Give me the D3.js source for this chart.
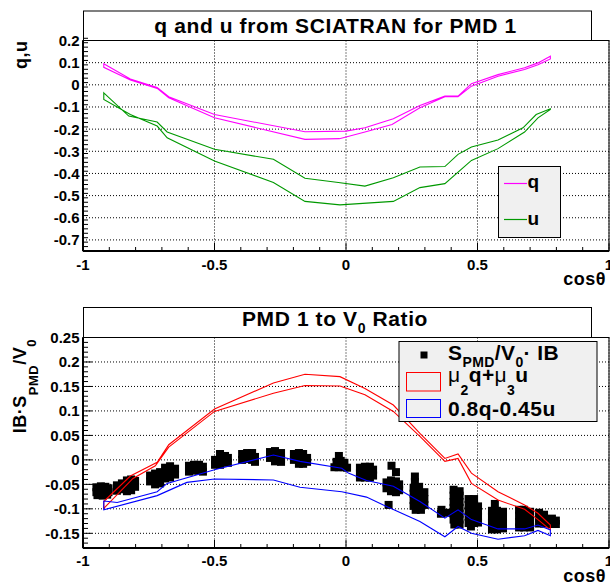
<!DOCTYPE html>
<html><head><meta charset="utf-8">
<script src="https://cdn.jsdelivr.net/npm/d3@7"></script>
<style>
html,body{margin:0;padding:0;background:#fff;}
svg{display:block;}
text{font-family:"Liberation Sans",Arial,Helvetica,sans-serif;font-weight:bold;fill:#000;}
</style></head><body>
<svg id="c" width="610" height="584"></svg>
<script>
// ---------------- DATA ----------------
// top panel: q (two passes, drawn as a closed loop)
const qCosA = [-0.921,-0.82,-0.718,-0.674,-0.5,-0.156,0.0,0.072,0.18,0.281,0.376,0.426,0.477,0.578,0.679,0.73,0.777];
const qValA = [0.095,0.026,-0.012,-0.054,-0.134,-0.212,-0.209,-0.194,-0.153,-0.093,-0.051,-0.051,0.005,0.046,0.077,0.099,0.129];
const qCosB = [-0.921,-0.82,-0.718,-0.674,-0.5,-0.156,-0.025,0.072,0.175,0.281,0.376,0.426,0.477,0.578,0.679,0.73,0.777];
const qValB = [0.079,0.022,-0.016,-0.058,-0.149,-0.246,-0.243,-0.213,-0.179,-0.104,-0.054,-0.054,-0.006,0.039,0.069,0.091,0.117];
// top panel: u
const uCosA = [-0.921,-0.826,-0.718,-0.68,-0.5,-0.276,-0.156,-0.029,0.072,0.18,0.281,0.376,0.426,0.477,0.578,0.673,0.723,0.777];
const uValA = [-0.036,-0.141,-0.168,-0.213,-0.291,-0.336,-0.422,-0.441,-0.457,-0.419,-0.371,-0.369,-0.314,-0.281,-0.249,-0.194,-0.134,-0.108];
const uCosB = [-0.921,-0.82,-0.718,-0.68,-0.5,-0.276,-0.156,-0.023,0.18,0.281,0.376,0.477,0.578,0.679,0.73,0.777];
const uValB = [-0.066,-0.134,-0.186,-0.239,-0.344,-0.441,-0.526,-0.542,-0.526,-0.464,-0.446,-0.341,-0.288,-0.213,-0.149,-0.111];
// bottom panel: mu2 q + mu3 u (red)
const rCosA = [-0.921,-0.82,-0.718,-0.674,-0.5,-0.276,-0.156,-0.023,0.072,0.18,0.281,0.376,0.426,0.477,0.578,0.679,0.73,0.777];
const rValA = [-0.085,-0.033,-0.005,0.031,0.104,0.157,0.175,0.170,0.146,0.112,0.054,0.003,0.012,-0.027,-0.065,-0.092,-0.109,-0.133];
const rCosB = [-0.921,-0.81,-0.725,-0.674,-0.5,-0.276,-0.156,-0.023,0.072,0.18,0.281,0.376,0.426,0.477,0.578,0.679,0.73,0.777];
const rValB = [-0.099,-0.038,-0.012,0.026,0.099,0.136,0.152,0.151,0.133,0.099,0.048,-0.003,0.003,-0.048,-0.082,-0.101,-0.122,-0.143];
// bottom panel: 0.8q - 0.45u (blue)
const bCosA = [-0.921,-0.87,-0.718,-0.68,-0.5,-0.276,-0.175,-0.016,0.009,0.078,0.18,0.281,0.376,0.426,0.477,0.578,0.679,0.73,0.777];
const bValA = [-0.084,-0.087,-0.065,-0.048,-0.020,0.010,-0.003,-0.017,-0.027,-0.042,-0.054,-0.085,-0.119,-0.102,-0.122,-0.141,-0.141,-0.133,-0.143];
const bCosB = [-0.921,-0.718,-0.605,-0.5,-0.276,-0.175,-0.016,0.078,0.154,0.281,0.376,0.426,0.477,0.578,0.679,0.73,0.777];
const bValB = [-0.102,-0.073,-0.046,-0.039,-0.041,-0.056,-0.065,-0.076,-0.095,-0.126,-0.157,-0.136,-0.150,-0.162,-0.155,-0.144,-0.155];
// bottom panel: measured S_PMD/V0 * IB (cos, ratio)
const measured = [
 [-0.949,-0.056],[-0.932,-0.054],[-0.915,-0.055],[-0.903,-0.058],[-0.949,-0.066],[-0.932,-0.066],[-0.915,-0.066],[-0.903,-0.066],[-0.945,-0.072],[-0.925,-0.073],[-0.908,-0.071],
 [-0.871,-0.052],[-0.871,-0.063],[-0.852,-0.048],[-0.852,-0.06],[-0.833,-0.042],[-0.833,-0.055],[-0.833,-0.064],[-0.817,-0.04],[-0.817,-0.052],[-0.817,-0.062],[-0.802,-0.043],[-0.802,-0.055],
 [-0.745,-0.032],[-0.745,-0.044],[-0.726,-0.028],[-0.726,-0.04],[-0.726,-0.05],[-0.707,-0.025],[-0.707,-0.038],[-0.707,-0.048],[-0.688,-0.016],[-0.688,-0.028],[-0.688,-0.038],[-0.669,-0.013],[-0.669,-0.026],[-0.669,-0.036],[-0.65,-0.018],[-0.65,-0.03],
 [-0.597,-0.012],[-0.597,-0.024],[-0.578,-0.01],[-0.578,-0.022],[-0.559,-0.01],[-0.559,-0.022],[-0.544,-0.014],[-0.544,-0.024],
 [-0.498,0.0],[-0.498,-0.01],[-0.479,0.012],[-0.479,0.0],[-0.479,-0.01],[-0.46,0.008],[-0.46,-0.004],[-0.449,0.004],[-0.449,-0.006],
 [-0.395,0.012],[-0.395,0.0],[-0.376,0.014],[-0.376,0.002],[-0.357,0.014],[-0.357,0.0],[-0.346,0.006],[-0.346,-0.004],
 [-0.289,0.016],[-0.289,0.004],[-0.27,0.018],[-0.27,0.006],[-0.27,-0.003],[-0.247,0.014],[-0.247,0.002],[-0.247,-0.004],
 [-0.198,0.012],[-0.198,0.0],[-0.179,0.014],[-0.179,0.002],[-0.179,-0.008],[-0.163,0.012],[-0.163,0.0],[-0.163,-0.008],[-0.148,0.004],[-0.148,-0.004],
 [-0.027,0.008],[-0.036,-0.004],[-0.02,-0.002],[-0.006,-0.006],[-0.044,-0.015],[-0.028,-0.015],[-0.01,-0.015],[0.004,-0.016],
 [0.053,-0.016],[0.053,-0.028],[0.053,-0.036],[0.072,-0.014],[0.072,-0.026],[0.072,-0.036],[0.091,-0.014],[0.091,-0.026],[0.091,-0.036],[0.103,-0.02],[0.103,-0.032],
 [0.173,-0.012],[0.19,-0.025],
 [0.154,-0.046],[0.154,-0.058],[0.171,-0.042],[0.171,-0.054],[0.171,-0.064],[0.19,-0.044],[0.19,-0.056],[0.19,-0.066],[0.202,-0.05],[0.202,-0.062],
 [0.162,-0.092],
 [0.262,-0.034],[0.262,-0.045],[0.257,-0.057],[0.278,-0.055],[0.257,-0.069],[0.278,-0.069],[0.298,-0.066],[0.257,-0.082],[0.278,-0.082],[0.298,-0.08],[0.257,-0.094],[0.278,-0.094],[0.298,-0.092],[0.265,-0.102],[0.285,-0.102],
 [0.363,-0.102],[0.382,-0.108],[0.361,-0.11],
 [0.409,-0.061],[0.432,-0.064],[0.409,-0.073],[0.432,-0.073],[0.409,-0.086],[0.432,-0.086],[0.409,-0.098],[0.432,-0.098],[0.409,-0.11],[0.432,-0.11],[0.409,-0.122],[0.432,-0.122],[0.412,-0.132],[0.432,-0.132],
 [0.466,-0.08],[0.487,-0.08],[0.466,-0.092],[0.487,-0.092],[0.502,-0.095],[0.466,-0.104],[0.487,-0.104],[0.502,-0.104],[0.466,-0.116],[0.487,-0.116],[0.502,-0.116],[0.466,-0.129],[0.487,-0.129],[0.502,-0.128],[0.475,-0.136],
 [0.566,-0.090],[0.555,-0.104],[0.574,-0.104],[0.597,-0.106],[0.555,-0.116],[0.574,-0.116],[0.597,-0.116],[0.555,-0.129],[0.574,-0.129],[0.597,-0.129],[0.555,-0.142],[0.574,-0.142],[0.597,-0.14],
 [0.658,-0.102],[0.677,-0.102],[0.7,-0.106],[0.658,-0.114],[0.677,-0.114],[0.7,-0.114],[0.658,-0.127],[0.677,-0.127],[0.7,-0.127],[0.658,-0.138],[0.677,-0.138],[0.7,-0.138],
 [0.734,-0.108],[0.753,-0.112],[0.734,-0.12],[0.753,-0.12],[0.734,-0.13],[0.753,-0.13],[0.783,-0.12],[0.798,-0.124],[0.783,-0.131],[0.798,-0.131]
];
// axes ticks / labels
const xTicks = [-1,-0.5,0,0.5,1];
const xTickLabels = ["-1","-0.5","0","0.5","1"];
const topYTicks = [0.2,0.1,0,-0.1,-0.2,-0.3,-0.4,-0.5,-0.6,-0.7];
const topYLabels = ["0.2","0.1","0","-0.1","-0.2","-0.3","-0.4","-0.5","-0.6","-0.7"];
const botYTicks = [0.25,0.2,0.15,0.1,0.05,0,-0.05,-0.1,-0.15];
const botYLabels = ["0.25","0.2","0.15","0.1","0.05","0","-0.05","-0.1","-0.15"];

// ---------------- DRAW ----------------
const svg = d3.select("#c");
const x = d3.scaleLinear().domain([-1,1]).range([83,609]);
const yTop = d3.scaleLinear().domain([-0.75,0.2]).range([251,40.5]);
const yBot = d3.scaleLinear().domain([-0.18,0.25]).range([548,337.5]);
const zip = (a,b)=>a.map((v,i)=>[v,b[i]]);

function panel(y, yTicks, yLabels, minorStep, xLabelY){
  const g = svg.append("g");
  const [y0,y1] = y.range(); // bottom, top
  const xl = x.range()[0], xr = x.range()[1];
  xTicks.forEach(t=>{
    g.append("line").attr("x1",x(t)).attr("x2",x(t)).attr("y1",y1).attr("y2",y0)
     .attr("stroke","#000").attr("stroke-width",1).attr("stroke-dasharray","1,2");
  });
  yTicks.forEach(t=>{
    g.append("line").attr("x1",xl).attr("x2",xr).attr("y1",y(t)).attr("y2",y(t))
     .attr("stroke","#000").attr("stroke-width",1).attr("stroke-dasharray","1,2");
  });
  g.append("rect").attr("x",xl).attr("y",y1).attr("width",xr-xl).attr("height",y0-y1)
   .attr("fill","none").attr("stroke","#000").attr("stroke-width",1);
  for(let i=0;i<=20;i++){
    const v = -1 + i*0.1;
    const major = (i%5===0);
    g.append("line").attr("x1",x(v)).attr("x2",x(v)).attr("y1",y0).attr("y2",y0-(major?8:4))
     .attr("stroke","#000").attr("stroke-width",1);
  }
  const yd = y.domain();
  const n = Math.round((yd[1]-yd[0])/minorStep);
  const majStep = minorStep*5;
  for(let i=0;i<=n;i++){
    const v = yd[0] + i*minorStep;
    const r = v/majStep;
    const major = Math.abs(r-Math.round(r))<1e-6;
    g.append("line").attr("x1",xl).attr("x2",xl+(major?9:5)).attr("y1",y(v)).attr("y2",y(v))
     .attr("stroke","#000").attr("stroke-width",1);
  }
  g.append("line").attr("x1",xl).attr("x2",xr).attr("y1",y0).attr("y2",y0).attr("stroke","#000").attr("stroke-width",2);
  g.append("line").attr("x1",xl).attr("x2",xl).attr("y1",y1).attr("y2",y0).attr("stroke","#000").attr("stroke-width",2);
  yTicks.forEach((t,i)=>{
    g.append("text").attr("x",79.5).attr("y",y(t)+5.4).attr("text-anchor","end")
     .style("font-size","15px").text(yLabels[i]);
  });
  xTicks.forEach((t,i)=>{
    g.append("text").attr("x",x(t)).attr("y",xLabelY).attr("text-anchor","middle")
     .style("font-size","15px").text(xTickLabels[i]);
  });
  return g;
}

function loop(g, y, cA, vA, cB, vB, color){
  const pts = zip(cA,vA).concat(zip(cB,vB).reverse());
  const line = d3.line().x(d=>x(d[0])).y(d=>y(d[1]));
  g.append("path").attr("d", line(pts)+"Z").attr("fill","none").attr("stroke",color).attr("stroke-width",1.1);
}

// ---------- TOP PANEL ----------
svg.append("rect").attr("x",83.5).attr("y",11).attr("width",508).attr("height",29.5)
  .attr("fill","#fff").attr("stroke","#000").attr("stroke-width",1);
svg.append("text").attr("x",335.5).attr("y",33).attr("text-anchor","middle")
  .style("font-size","21px").style("letter-spacing","0.6px").text("q and u from SCIATRAN for PMD 1");
const gT = panel(yTop, topYTicks, topYLabels, 0.02, 270);
loop(gT, yTop, qCosA, qValA, qCosB, qValB, "#ff00ff");
loop(gT, yTop, uCosA, uValA, uCosB, uValB, "#009900");
svg.append("text").attr("transform","translate(27,40.5) rotate(-90)").attr("text-anchor","end")
  .style("font-size","18px").style("letter-spacing","0.5px").text("q,u");
svg.append("text").attr("x",606).attr("y",285).attr("text-anchor","end")
  .style("font-size","18px").style("letter-spacing","0.5px").text("cosθ");
svg.append("rect").attr("x",498.5).attr("y",166.5).attr("width",62).attr("height",71)
  .attr("fill","#f0f0f0").attr("stroke","#000").attr("stroke-width",1);
svg.append("line").attr("x1",504).attr("x2",527).attr("y1",183.5).attr("y2",183.5).attr("stroke","#ff00ff").attr("stroke-width",1.2);
svg.append("line").attr("x1",504).attr("x2",527).attr("y1",219.5).attr("y2",219.5).attr("stroke","#009900").attr("stroke-width",1.2);
svg.append("text").attr("x",527.5).attr("y",188).style("font-size","19px").text("q");
svg.append("text").attr("x",527.5).attr("y",225).style("font-size","19px").text("u");

// ---------- BOTTOM PANEL ----------
svg.append("rect").attr("x",83.5).attr("y",307.5).attr("width",508).attr("height",30)
  .attr("fill","#fff").attr("stroke","#000").attr("stroke-width",1);
const t2 = svg.append("text").attr("x",335).attr("y",326).attr("text-anchor","middle")
  .style("font-size","21px").style("letter-spacing","0.6px");
t2.append("tspan").text("PMD 1 to V");
t2.append("tspan").attr("dy",7).style("font-size","14px").text("0");
t2.append("tspan").attr("dy",-7).text(" Ratio");
const gB = panel(yBot, botYTicks, botYLabels, 0.01, 565.5);
gB.append("g").selectAll("rect").data(measured).join("rect")
  .attr("x",d=>x(d[0])-4).attr("y",d=>yBot(d[1])-4).attr("width",8).attr("height",8).attr("fill","#000");
loop(gB, yBot, rCosA, rValA, rCosB, rValB, "#ff0000");
loop(gB, yBot, bCosA, bValA, bCosB, bValB, "#0000ff");
const yt = svg.append("text").attr("transform","translate(26,339) rotate(-90)").attr("text-anchor","end")
  .style("font-size","18px").style("letter-spacing","0.5px");
yt.append("tspan").text("IB·S");
yt.append("tspan").attr("dy",12).style("font-size","13px").text("PMD");
yt.append("tspan").attr("dy",-12).text("/V");
yt.append("tspan").attr("dy",10).style("font-size","13px").text("0");
svg.append("text").attr("x",606).attr("y",582).attr("text-anchor","end")
  .style("font-size","18px").style("letter-spacing","0.5px").text("cosθ");
svg.append("rect").attr("x",399).attr("y",341.5).attr("width",198).attr("height",80)
  .attr("fill","#f0f0f0").attr("stroke","#000").attr("stroke-width",1);
svg.append("rect").attr("x",420.5).attr("y",351.5).attr("width",7).attr("height",7).attr("fill","#000");
svg.append("rect").attr("x",406.5).attr("y",372.5).attr("width",34).attr("height",18.5)
  .attr("fill","none").attr("stroke","#ff0000").attr("stroke-width",1);
svg.append("rect").attr("x",406.5).attr("y",399.5).attr("width",34).attr("height",18)
  .attr("fill","none").attr("stroke","#0000ff").attr("stroke-width",1);
const l1 = svg.append("text").attr("x",448).attr("y",360).style("font-size","21px").style("letter-spacing","0.4px");
l1.append("tspan").text("S");
l1.append("tspan").attr("dy",7).style("font-size","14px").text("PMD");
l1.append("tspan").attr("dy",-7).text("/V");
l1.append("tspan").attr("dy",7).style("font-size","14px").text("0");
l1.append("tspan").attr("dy",-7).text("· IB");
const l2 = svg.append("text").attr("x",448).attr("y",382).style("font-size","21px").style("letter-spacing","0.4px");
l2.append("tspan").style("font-weight","normal").text("μ");
l2.append("tspan").attr("dy",13).style("font-size","14px").text("2");
l2.append("tspan").attr("dy",-13).text("q+");
l2.append("tspan").style("font-weight","normal").text("μ");
l2.append("tspan").attr("dy",13).style("font-size","14px").text("3");
l2.append("tspan").attr("dy",-13).text("u");
svg.append("text").attr("x",448).attr("y",416).style("font-size","21px").style("letter-spacing","0.5px").text("0.8q-0.45u");
</script>
</body></html>
